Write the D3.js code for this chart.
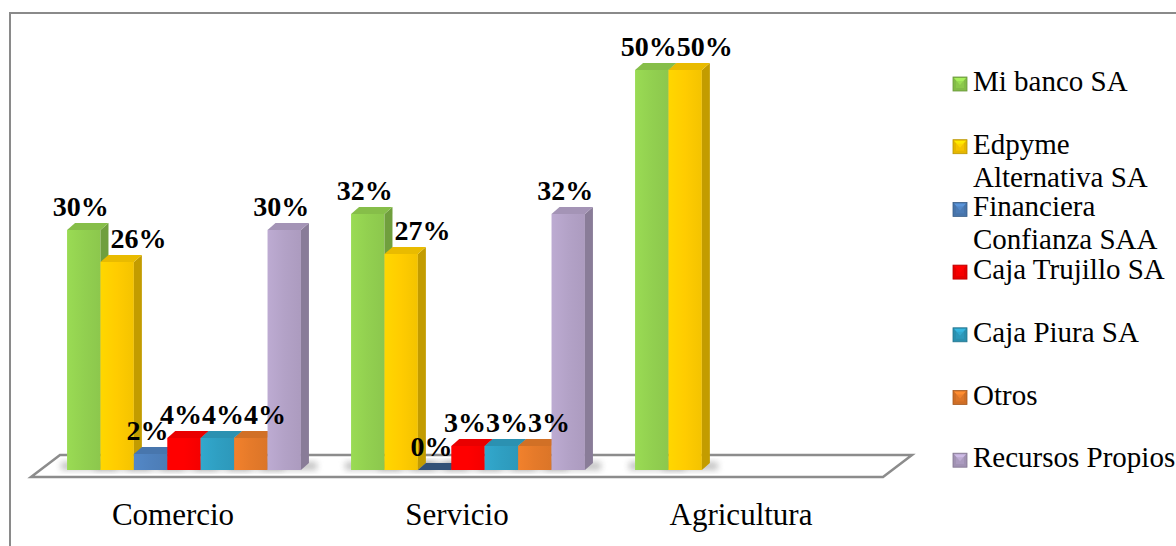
<!DOCTYPE html>
<html>
<head>
<meta charset="utf-8">
<script src="https://cdn.jsdelivr.net/npm/d3@7"></script>
<style>
  body { margin: 0; background: #fff; }
  svg { display: block; }
</style>
</head>
<body>
<div id="chart"></div>
<script>
// data
const categories = ["Comercio", "Servicio", "Agricultura"];
const seriesNames = ["Mi banco SA", "Edpyme Alternativa SA", "Financiera Confianza SAA",
                     "Caja Trujillo SA", "Caja Piura SA", "Otros", "Recursos Propios"];
const miBanco     = [0.30, 0.32, 0.50];
const edpyme      = [0.26, 0.27, 0.50];
const financiera  = [0.02, 0.00, null];
const cajaTrujillo = [0.04, 0.03, null];
const cajaPiura   = [0.04, 0.03, null];
const otros       = [0.04, 0.03, null];
const recursos    = [0.30, 0.32, null];
const values = [miBanco, edpyme, financiera, cajaTrujillo, cajaPiura, otros, recursos];
const seriesColors = ["#92D050", "#FFCC00", "#4F81BD", "#FF0000", "#2F9FC2", "#E57A2A", "#B3A2C7"];

const width = 1176, height = 546;
const serif = "Liberation Serif";

// 3d look
const depthX = 8, depthY = 7;      // bar depth offsets
const depthShift = 11;             // bars sit in the middle of the floor
const baseY = 470;
const floorFront = 477, floorBack = 455, floorSkew = 29;

const svg = d3.select("#chart").append("svg")
  .attr("width", width)
  .attr("height", height);

const defs = svg.append("defs");
defs.append("filter").attr("id", "blur")
  .attr("x", "-50%").attr("y", "-50%").attr("width", "200%").attr("height", "200%")
  .append("feGaussianBlur").attr("stdDeviation", 3);

seriesColors.forEach((c, i) => {
  const g = defs.append("linearGradient").attr("id", "front" + i)
    .attr("x1", 0).attr("x2", 1).attr("y1", 0).attr("y2", 0);
  g.append("stop").attr("offset", "0%").attr("stop-color", d3.color(c).brighter(0.15));
  g.append("stop").attr("offset", "50%").attr("stop-color", c);
  g.append("stop").attr("offset", "100%").attr("stop-color", d3.color(c).darker(0.12));
});

// chart frame
svg.append("rect")
  .attr("x", 10).attr("y", 13)
  .attr("width", 1300).attr("height", 700)
  .attr("fill", "none")
  .attr("stroke", "#8a8a8a")
  .attr("stroke-width", 2);

// scales
const x0 = d3.scaleBand().domain(categories).range([31, 883]);
const x1 = d3.scaleBand().domain(seriesNames).range([0, x0.bandwidth()]).paddingOuter(0.75);
const y = d3.scaleLinear().domain([0, 0.5]).range([baseY, 70]);
const barW = x1.bandwidth();
const fmt = d3.format(".0%");

// floor
const [fl, fr] = x0.range();
svg.append("polygon")
  .attr("points", [[fl, floorFront], [fr, floorFront], [fr + floorSkew, floorBack], [fl + floorSkew, floorBack]].join(" "))
  .attr("fill", "#fff")
  .attr("stroke", "#8c8c8c")
  .attr("stroke-width", 2.5)
  .attr("stroke-linejoin", "miter");

// flat list of bars
const bars = [];
categories.forEach((cat, ci) => {
  seriesNames.forEach((s, si) => {
    const v = values[si][ci];
    if (v == null) return;
    bars.push({ cat, ci, s, si, v, x: x0(cat) + x1(s) + depthShift });
  });
});

// soft shadows on the floor
svg.append("g").selectAll("rect")
  .data(bars)
  .join("rect")
    .attr("x", d => d.x - 6)
    .attr("y", baseY - 8)
    .attr("width", barW + depthX + 14)
    .attr("height", 8)
    .attr("fill", "#8f8f8f")
    .attr("opacity", 0.55)
    .attr("filter", "url(#blur)");

// bars: front, side, top
const barG = svg.append("g").selectAll("g")
  .data(bars)
  .join("g");

barG.append("rect")
  .attr("x", d => d.x)
  .attr("y", d => y(d.v))
  .attr("width", barW)
  .attr("height", d => baseY - y(d.v))
  .attr("fill", d => `url(#front${d.si})`);

barG.append("polygon")
  .attr("points", d => {
    const r = d.x + barW, t = y(d.v);
    return [[r, t], [r + depthX, t - depthY], [r + depthX, baseY - depthY], [r, baseY]].join(" ");
  })
  .attr("fill", d => d3.color(seriesColors[d.si]).darker(0.75));

barG.append("polygon")
  .attr("points", d => {
    const t = y(d.v);
    return [[d.x, t], [d.x + barW, t], [d.x + barW + depthX, t - depthY], [d.x + depthX, t - depthY]].join(" ");
  })
  .attr("fill", d => d.v === 0
    ? d3.color(seriesColors[d.si]).darker(1.3)
    : d3.color(seriesColors[d.si]).darker(0.25));

// value labels, nudged right when they run into the previous bar or label
const labelPad = 14, capH = 19;
const labelG = svg.append("g");
categories.forEach((cat, ci) => {
  let prevBox = null, prevBar = null;
  bars.filter(b => b.ci === ci).forEach(b => {
    const t = labelG.append("text")
      .attr("y", y(b.v) - labelPad)
      .attr("font-family", serif)
      .attr("font-weight", "bold")
      .attr("font-size", 28)
      .attr("fill", "#000")
      .text(fmt(b.v));
    const w = t.node().getComputedTextLength();
    let left = b.x + barW / 2 - 3 - w / 2;
    const bottom = y(b.v) - labelPad, top = bottom - capH;
    if (prevBar && bottom - prevBar.top > 4 && prevBar.right - left > 18) left = prevBar.right + 2;
    if (prevBox && Math.min(bottom, prevBox.bottom) - Math.max(top, prevBox.top) > 4 &&
        prevBox.right - left > 4) left = prevBox.right;
    t.attr("x", left);
    prevBox = { top, bottom, right: left + w };
    prevBar = { top: y(b.v) - depthY, right: b.x + barW + depthX };
  });
});

// category axis labels
svg.append("g").selectAll("text")
  .data(categories)
  .join("text")
    .attr("x", d => x0(d) + x0.bandwidth() / 2)
    .attr("y", 525)
    .attr("text-anchor", "middle")
    .attr("font-family", serif)
    .attr("font-size", 31)
    .attr("fill", "#000")
    .text(d => d);

// legend
const legX = 953, legY = 91, legStep = 62.7, lineH = 33, wrapW = 205;
const legend = svg.append("g");
seriesNames.forEach((name, i) => {
  const by = legY + i * legStep;
  const c = d3.color(seriesColors[i]);
  const m = legend.append("g").attr("transform", `translate(${legX},${by - 14})`);
  m.append("rect").attr("width", 14).attr("height", 14)
    .attr("fill", c.darker(0.3)).attr("stroke", c.darker(0.9)).attr("stroke-width", 0.8);
  m.append("polygon").attr("points", "1,1 13,1 7,8").attr("fill", c.brighter(0.4));
  m.append("rect").attr("x", 3).attr("y", 4).attr("width", 8).attr("height", 7)
    .attr("fill", c).attr("opacity", 0.6);

  const t = legend.append("text")
    .attr("x", legX + 20)
    .attr("y", by)
    .attr("font-family", serif)
    .attr("font-size", 29)
    .attr("fill", "#000");
  // simple word wrap
  const words = name.split(" ");
  let line = [], lineNo = 0;
  let tspan = t.append("tspan").attr("x", legX + 20).attr("y", by);
  words.forEach(word => {
    line.push(word);
    tspan.text(line.join(" "));
    if (tspan.node().getComputedTextLength() > wrapW && line.length > 1) {
      line.pop();
      tspan.text(line.join(" "));
      line = [word];
      lineNo++;
      tspan = t.append("tspan").attr("x", legX + 20).attr("y", by + lineNo * lineH).text(word);
    }
  });
});
</script>
</body>
</html>
